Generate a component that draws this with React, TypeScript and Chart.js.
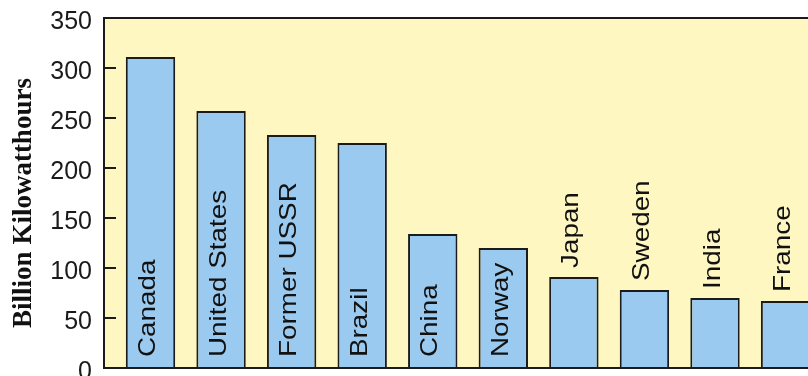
import { useEffect, useRef } from "react";
import { Chart, registerables } from "chart.js";

Chart.register(...registerables);

// Hydroelectric generation by country
const countries = [
  "Canada",
  "United States",
  "Former USSR",
  "Brazil",
  "China",
  "Norway",
  "Japan",
  "Sweden",
  "India",
  "France",
];
const generation = [311, 257, 233, 225, 134, 120, 91, 78, 70, 67];
const yAxisTitle = "Billion Kilowatthours";
const yMin = 0;
const yMax = 350;
const yStep = 50;

const PLOT_BG = "#fef7c2";
const BAR_FILL = "#9acaef";
const INK = "#1b1b1b";
const LABEL_FONT = '24px "Liberation Sans", Arial, sans-serif';
const TICK_FONT_FAMILY = '"Liberation Sans", Arial, sans-serif';
const TITLE_FONT = 'bold 27px "Liberation Serif", "Times New Roman", serif';
// bars shorter than this carry their name above instead of inside
const INSIDE_MIN = 100;

const framePlugin = {
  id: "frame",
  beforeDatasetsDraw(chart: any) {
    const { ctx, chartArea: a } = chart;
    ctx.save();
    ctx.fillStyle = PLOT_BG;
    ctx.fillRect(a.left, a.top, a.right - a.left, a.bottom - a.top);
    ctx.restore();
  },
  afterDatasetsDraw(chart: any) {
    const { ctx, chartArea: a, scales } = chart;
    ctx.save();
    ctx.strokeStyle = INK;
    ctx.lineWidth = 2;
    ctx.beginPath();
    ctx.moveTo(a.right, a.top);
    ctx.lineTo(a.left, a.top);
    ctx.lineTo(a.left, a.bottom);
    ctx.lineTo(a.right, a.bottom);
    ctx.stroke();

    // inward tick marks on the value axis
    for (let v = yMin + yStep; v < yMax; v += yStep) {
      const y = Math.round(scales.y.getPixelForValue(v));
      ctx.beginPath();
      ctx.moveTo(a.left, y);
      ctx.lineTo(a.left + 12, y);
      ctx.stroke();
    }

    // country names, rotated, inside or above each bar
    const meta = chart.getDatasetMeta(0);
    ctx.fillStyle = "#111";
    ctx.font = LABEL_FONT;
    ctx.textAlign = "left";
    ctx.textBaseline = "middle";
    meta.data.forEach((bar: any, i: number) => {
      const inside = generation[i] >= INSIDE_MIN;
      const y0 = inside ? bar.base - 11 : bar.y - 9;
      ctx.save();
      ctx.translate(bar.x - 2, y0);
      ctx.rotate(-Math.PI / 2);
      ctx.scale(1.16, 1);
      ctx.fillText(countries[i], 0, 0);
      ctx.restore();
    });

    // axis title
    ctx.save();
    ctx.font = TITLE_FONT;
    ctx.fillStyle = "#111";
    ctx.textAlign = "center";
    ctx.textBaseline = "middle";
    ctx.translate(24, (a.top + a.bottom) / 2 + 10);
    ctx.rotate(-Math.PI / 2);
    ctx.fillText(yAxisTitle, 0, 0);
    ctx.restore();

    ctx.restore();
  },
};

export default function App() {
  const canvasRef = useRef<HTMLCanvasElement | null>(null);

  useEffect(() => {
    const canvas = canvasRef.current;
    if (!canvas) return;
    const chart = new Chart(canvas, {
      type: "bar",
      data: {
        datasets: [
          {
            data: generation.map((v, i) => ({ x: i, y: v })),
            backgroundColor: BAR_FILL,
            borderColor: INK,
            borderWidth: 2,
            borderSkipped: "start",
            categoryPercentage: 1,
            barPercentage: 0.7,
          },
        ],
      },
      options: {
        animation: false,
        responsive: true,
        maintainAspectRatio: false,
        layout: { padding: { top: 18, bottom: 8, left: 0, right: 0 } },
        plugins: {
          legend: { display: false },
          tooltip: { enabled: false },
        },
        scales: {
          x: {
            type: "linear",
            display: false,
            offset: false,
            min: -0.659,
            max: 9.318,
          },
          y: {
            min: yMin,
            max: yMax,
            grid: { display: false, drawTicks: false },
            border: { display: false },
            ticks: {
              stepSize: yStep,
              padding: 12,
              labelOffset: 4,
              color: "#1a1a1a",
              font: { family: TICK_FONT_FAMILY, size: 25 },
            },
            afterFit(scale: any) {
              scale.width = 104;
              scale.paddingTop = 0;
              scale.paddingBottom = 0;
            },
          },
        },
      },
      plugins: [framePlugin],
    });
    return () => chart.destroy();
  }, []);

  return (
    <div
      style={{
        position: "fixed",
        left: 0,
        top: 0,
        width: 808,
        height: 376,
        background: "#ffffff",
      }}
    >
      <canvas ref={canvasRef} />
    </div>
  );
}
